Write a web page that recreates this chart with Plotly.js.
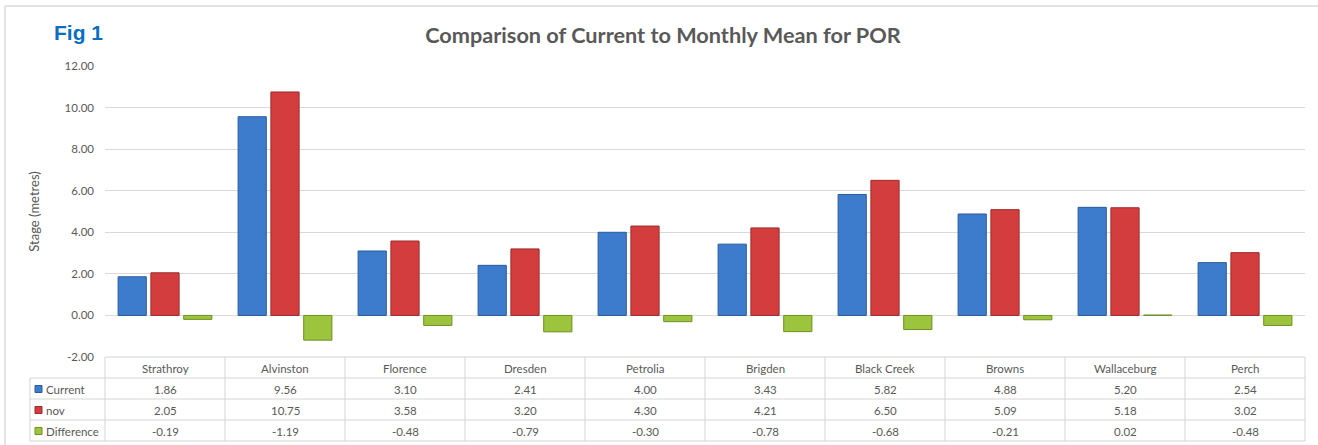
<!DOCTYPE html>
<html>
<head>
<meta charset="utf-8">
<script src="https://cdn.plot.ly/plotly-3.0.1.min.js"></script>
<style>
  html, body { margin: 0; padding: 0; background: #fff; }
  #chart { width: 1318px; height: 445px; }
</style>
</head>
<body>
<div id="chart"></div>
<script>
const categories = ["Strathroy", "Alvinston", "Florence", "Dresden", "Petrolia", "Brigden", "Black Creek", "Browns", "Wallaceburg", "Perch"];
const currentVals = [1.86, 9.56, 3.10, 2.41, 4.00, 3.43, 5.82, 4.88, 5.20, 2.54];
const novVals = [2.05, 10.75, 3.58, 3.20, 4.30, 4.21, 6.50, 5.09, 5.18, 3.02];
const diffVals = [-0.19, -1.19, -0.48, -0.79, -0.30, -0.78, -0.68, -0.21, 0.02, -0.48];
const seriesNames = ["Current", "nov", "Difference"];
const yTicks = [-2, 0, 2, 4, 6, 8, 10, 12];
const yTickText = ["-2.00", "0.00", "2.00", "4.00", "6.00", "8.00", "10.00", "12.00"];

const W = 1318, H = 445;
const mL = 105, mR = 13, mT = 66, mB = 88;
const plotW = W - mL - mR, plotH = H - mT - mB;
const px2x = p => (p - mL) / plotW;
const py2y = p => (H - mB - p) / plotH;

const colors = ["#3d7ccd", "#d43d3d", "#9cc43c"];
const edges = ["#2a5a9a", "#9c2a2a", "#6f8f25"];
const series = [currentVals, novVals, diffVals];

const traces = series.map((vals, i) => ({
  type: "bar",
  name: seriesNames[i],
  x: categories,
  y: vals,
  marker: { color: colors[i], line: { color: edges[i], width: 1 } },
  hoverinfo: "x+y+name"
}));

const textColor = "#595959";
const lineColor = "#d4d4d4";
const shapes = [];
const annotations = [];

// outer frame (top and left)
shapes.push({ type: "line", xref: "paper", yref: "paper", x0: px2x(5), x1: px2x(1318), y0: py2y(6), y1: py2y(6), line: { color: "#d9d9d9", width: 1.5 } });
shapes.push({ type: "line", xref: "paper", yref: "paper", x0: px2x(5), x1: px2x(5), y0: py2y(6), y1: py2y(445), line: { color: "#d9d9d9", width: 1.5 } });

// table horizontal lines
const rowLines = [357, 378, 399, 420, 441];
rowLines.forEach((p, i) => {
  shapes.push({ type: "line", xref: "paper", yref: "paper", x0: i === 0 ? 0 : px2x(30), x1: 1, y0: py2y(p), y1: py2y(p), line: { color: lineColor, width: 1 } });
});
// table vertical lines
shapes.push({ type: "line", xref: "paper", yref: "paper", x0: px2x(30), x1: px2x(30), y0: py2y(378), y1: py2y(441), line: { color: lineColor, width: 1 } });
for (let i = 0; i <= categories.length; i++) {
  shapes.push({ type: "line", xref: "paper", yref: "paper", x0: i / categories.length, x1: i / categories.length, y0: py2y(357), y1: py2y(441), line: { color: lineColor, width: 1 } });
}

const rowCenters = [368, 389, 410, 431];
const tFont = { family: "Lato, 'Open Sans', sans-serif", size: 11.5, color: textColor };
categories.forEach((c, j) => {
  annotations.push({ xref: "x", yref: "paper", x: c, y: py2y(rowCenters[0]), text: c, showarrow: false, font: tFont, xanchor: "center", yanchor: "middle" });
  series.forEach((vals, i) => {
    annotations.push({ xref: "x", yref: "paper", x: c, y: py2y(rowCenters[i + 1]), text: vals[j].toFixed(2), showarrow: false, font: tFont, xanchor: "center", yanchor: "middle" });
  });
});
seriesNames.forEach((n, i) => {
  const cy = rowCenters[i + 1];
  shapes.push({ type: "rect", xref: "paper", yref: "paper", x0: px2x(35), x1: px2x(42), y0: py2y(cy + 3.5), y1: py2y(cy - 3.5), fillcolor: colors[i], line: { color: edges[i], width: 1 } });
  annotations.push({ xref: "paper", yref: "paper", x: px2x(44), y: py2y(cy), text: n, showarrow: false, font: tFont, xanchor: "left", yanchor: "middle" });
});

// Fig 1 label
annotations.push({ xref: "paper", yref: "paper", x: px2x(52), y: py2y(33), text: "<b>Fig 1</b>", showarrow: false, xanchor: "left", yanchor: "middle", font: { family: "'Liberation Sans', Arial, sans-serif", size: 21, color: "#0b6fc1" } });

const layout = {
  width: W, height: H,
  margin: { l: mL, r: mR, t: mT, b: mB, pad: 0 },
  paper_bgcolor: "#ffffff",
  plot_bgcolor: "#ffffff",
  showlegend: false,
  barmode: "group",
  bargap: 0.18,
  bargroupgap: 0.14,
  title: {
    text: "<b>Comparison of Current to Monthly Mean for POR</b>",
    x: 0.503, xanchor: "center",
    y: 1 - 35 / H, yanchor: "middle",
    font: { family: "Lato, 'Open Sans', sans-serif", size: 21.7, color: textColor }
  },
  xaxis: {
    type: "category",
    showticklabels: false,
    showgrid: false,
    zeroline: false,
    showline: false,
    ticks: ""
  },
  yaxis: {
    range: [-2, 12],
    tickvals: yTicks,
    ticktext: yTickText,
    showgrid: true,
    gridcolor: "#d9d9d9",
    gridwidth: 1,
    zeroline: false,
    showline: false,
    ticks: "",
    ticklabelstandoff: 10,
    tickfont: { family: "Lato, 'Open Sans', sans-serif", size: 11.5, color: textColor },
    title: { text: "Stage (metres)", standoff: 22, font: { family: "Lato, 'Open Sans', sans-serif", size: 13, color: textColor } },
    fixedrange: true
  },
  shapes: shapes,
  annotations: annotations
};

Plotly.newPlot("chart", traces, layout, { displayModeBar: false, staticPlot: true });
</script>
</body>
</html>
